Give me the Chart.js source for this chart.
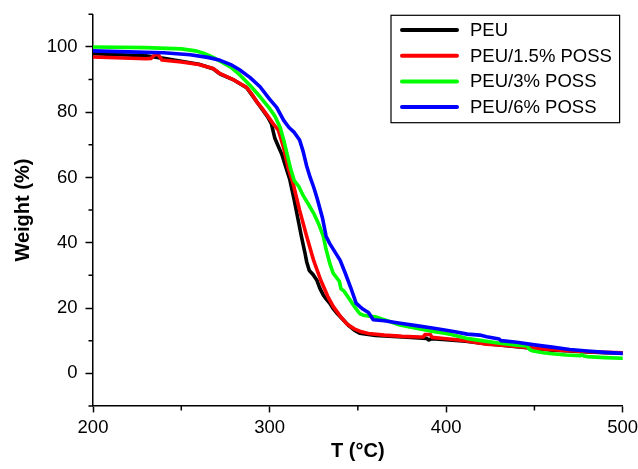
<!DOCTYPE html>
<html>
<head>
<meta charset="utf-8">
<script src="https://cdn.jsdelivr.net/npm/chart.js@4/dist/chart.umd.min.js"></script>
<style>
  html, body { margin: 0; padding: 0; background: #fff; }
  #wrap { width: 638px; height: 469px; }
</style>
</head>
<body>
<div id="wrap"><canvas id="c" width="638" height="469"></canvas></div>
<script>
// ---- Data ----
const seriesLabels = ['PEU', 'PEU/1.5% POSS', 'PEU/3% POSS', 'PEU/6% POSS'];

const tPEU = [200, 230, 240, 250, 260, 268, 272, 280, 287, 290, 293, 296, 299, 301, 303, 305, 307, 309, 311.5, 314, 316, 318, 320, 321, 322.5, 324.7, 326.7, 328.5, 330.4, 332, 334, 336, 338, 341.7, 345, 348, 351, 355, 360, 370, 380, 389, 390, 392, 400, 411, 420, 430, 440, 450, 460, 470, 480, 490, 500];
const wPEU = [97.9, 97.3, 96.5, 95.6, 94.7, 93.3, 91.7, 89.8, 87.5, 85.3, 83, 80.8, 78.5, 76.5, 72, 69.5, 67, 63.5, 59.3, 53, 47.5, 42, 37, 34.2, 31.5, 30.2, 28.6, 26, 24, 22.8, 21.5, 19.8, 18.5, 16.4, 14.5, 13.2, 12.3, 12.0, 11.6, 11.3, 11.0, 10.7, 10.2, 10.6, 10.3, 9.8, 9.2, 8.7, 8.1, 7.6, 7.1, 6.8, 6.5, 6.3, 6.2];

const tPOSS15 = [200, 230, 233, 235, 237, 239, 250, 260, 268, 272, 280, 287, 290, 293, 296, 299, 302, 305, 308, 310.5, 313.4, 317, 321, 325, 329, 333, 336, 340, 344, 348, 352, 356, 365, 375, 385, 387, 388, 391, 392, 400, 411, 423, 430, 440, 450, 460, 470, 480, 490, 500];
const wPOSS15 = [96.9, 96.4, 96.5, 97.6, 97.6, 96.0, 95.4, 94.6, 93.4, 91.8, 89.8, 87.6, 85.5, 83, 81, 78.8, 76.5, 74.5, 69, 63, 58, 50, 42, 34.5, 28.5, 23.5, 20.5, 17.5, 15, 13.6, 12.7, 12.2, 11.7, 11.3, 11.1, 11.1, 11.9, 11.9, 11.0, 10.6, 10.0, 8.9, 8.7, 8.2, 7.7, 7.2, 6.9, 6.6, 6.4, 6.3];

const tPOSS3 = [200, 230, 250, 258, 263, 268, 273, 278, 283, 289, 295, 300.2, 303, 306, 308, 310, 312, 314, 316.5, 319, 322, 325, 328, 330.4, 332, 334.2, 336, 339.5, 340.5, 342, 345.5, 348, 351, 353, 360.6, 373.8, 383, 392.7, 400, 402, 404, 411.5, 420, 430.5, 440, 445.6, 447.5, 449.3, 455, 460, 468, 476, 477, 478, 480, 490, 500];
const wPOSS3 = [100, 99.8, 99.4, 98.8, 98, 96.8, 95.3, 93.8, 91.5, 88.2, 84.5, 81, 78.8, 75.3, 71.5, 67, 62.5, 59, 57.3, 54.5, 51.8, 49, 45.5, 42, 38, 33.5, 30.7, 28.2, 25.8, 25.3, 22.5, 20.5, 18.3, 17.8, 17.2, 14.8, 13.8, 12.8, 12.2, 12.0, 11.7, 10.7, 10.0, 9.2, 8.6, 8.4, 7.2, 6.8, 6.3, 6.0, 5.6, 5.4, 5.7, 5.3, 5.1, 4.8, 4.6];

const tPOSS6 = [200, 220, 240, 255, 265, 272, 278, 283, 289, 294.6, 300, 304, 308, 311, 314, 317, 319, 321, 323, 325, 327, 330, 332, 334, 337, 340, 343, 346, 349, 351, 353, 356, 358.7, 365, 374, 383, 393, 400, 405, 412, 419, 423, 430, 431, 440, 450, 460, 470, 480, 490, 500];
const wPOSS6 = [98.8, 98.5, 98.2, 97.6, 96.8, 95.9, 94.6, 93, 90.6, 87.8, 84, 81.5, 77.5, 75.3, 73.8, 71.5, 68, 63.5, 60, 57, 53.5, 47.5, 42, 39.8, 37.2, 34.6, 30.5, 26.2, 21.5, 20.5, 19.6, 18.6, 16.4, 16.1, 15.3, 14.6, 13.8, 13.2, 12.7, 12.0, 11.7, 11.2, 10.5, 10.0, 9.5, 8.7, 8.0, 7.3, 6.8, 6.4, 6.1];

const xMajorTicks = [200, 300, 400, 500];
const xMinorTicks = [250, 350, 450];
const yMajorTicks = [0, 20, 40, 60, 80, 100];
const yMinorTicks = [-10, 10, 30, 50, 70, 90, 110];

// ---- Styling ----
const colors = ['#000000', '#ff0000', '#00ff00', '#0000ff'];
const FONT = "'Liberation Sans', Arial, Helvetica, sans-serif";

const seriesT = [tPEU, tPOSS15, tPOSS3, tPOSS6];
const seriesW = [wPEU, wPOSS15, wPOSS3, wPOSS6];

const datasets = seriesLabels.map((label, k) => ({
  label,
  data: seriesT[k].map((t, i) => ({ x: t, y: seriesW[k][i] })),
  borderColor: colors[k],
  backgroundColor: colors[k],
  borderWidth: 3.6,
  pointRadius: 0,
  tension: 0,
  fill: false,
  borderJoinStyle: 'round',
  borderCapStyle: 'round',
  order: seriesLabels.length - k
}));

const minorTicksPlugin = {
  id: 'minorTicks',
  afterDraw(chart) {
    const ctx = chart.ctx;
    const xs = chart.scales.x, ys = chart.scales.y;
    const a = chart.chartArea;
    ctx.save();
    ctx.strokeStyle = '#000';
    ctx.lineWidth = 1.5;
    ctx.beginPath();
    yMinorTicks.forEach(v => {
      const p = ys.getPixelForValue(v);
      ctx.moveTo(a.left - 4.5, p);
      ctx.lineTo(a.left, p);
    });
    xMinorTicks.forEach(v => {
      const p = xs.getPixelForValue(v);
      ctx.moveTo(p, a.bottom);
      ctx.lineTo(p, a.bottom + 4.5);
    });
    ctx.stroke();
    ctx.restore();
  }
};

const boxLegendPlugin = {
  id: 'boxLegend',
  afterDraw(chart) {
    const ctx = chart.ctx;
    const a = chart.chartArea;
    const bw = 228.6, bh = 107.4;
    const bx = a.right - 231.7, by = a.top + 1;
    ctx.save();
    ctx.fillStyle = '#fff';
    ctx.fillRect(bx, by, bw, bh);
    ctx.strokeStyle = '#000';
    ctx.lineWidth = 1.2;
    ctx.strokeRect(bx, by, bw, bh);
    ctx.font = '18.5px ' + FONT;
    ctx.textBaseline = 'middle';
    ctx.textAlign = 'left';
    chart.data.datasets.forEach((ds, i) => {
      const y = by + 14.7 + i * 25.7;
      ctx.strokeStyle = ds.borderColor;
      ctx.lineWidth = 4;
      ctx.lineCap = 'round';
      ctx.beginPath();
      ctx.moveTo(bx + 11, y);
      ctx.lineTo(bx + 66, y);
      ctx.stroke();
      ctx.fillStyle = '#000';
      ctx.fillText(ds.label, bx + 79, y + 1);
    });
    ctx.restore();
  }
};

Chart.defaults.color = '#000';
Chart.defaults.font.family = FONT;

new Chart(document.getElementById('c'), {
  type: 'line',
  data: { datasets },
  plugins: [minorTicksPlugin, boxLegendPlugin],
  options: {
    responsive: false,
    animation: false,
    devicePixelRatio: 1,
    layout: { padding: { top: 14.3, right: 15.3, left: 0, bottom: 0 } },
    plugins: { legend: { display: false }, tooltip: { enabled: false } },
    scales: {
      x: {
        type: 'linear',
        min: 200, max: 500,
        afterBuildTicks(s) { s.ticks = xMajorTicks.map(v => ({ value: v })); },
        afterFit(s) { s.height = 63.1; s.paddingLeft = 0; s.paddingRight = 0; },
        grid: { display: true, drawOnChartArea: false, drawTicks: true, tickLength: 6.5, tickWidth: 1.5, tickColor: '#000' },
        border: { display: true, color: '#000', width: 1.5 },
        ticks: { font: { size: 18.5 }, padding: 4, color: '#000', maxRotation: 0, autoSkip: false },
        title: { display: true, text: 'T (°C)', font: { size: 20, weight: 'bold' }, color: '#000', padding: { top: 0, bottom: 5.4 } }
      },
      y: {
        type: 'linear',
        min: -10, max: 110,
        afterBuildTicks(s) { s.ticks = yMajorTicks.map(v => ({ value: v })); },
        afterFit(s) { s.width = 93; s.paddingTop = 0; s.paddingBottom = 0; },
        grid: { display: true, drawOnChartArea: false, drawTicks: true, tickLength: 7.5, tickWidth: 1.5, tickColor: '#000' },
        border: { display: true, color: '#000', width: 1.5 },
        ticks: { font: { size: 18.5 }, padding: 8, color: '#000', autoSkip: false },
        title: { display: true, text: 'Weight (%)', font: { size: 20, weight: 'bold' }, color: '#000', padding: { top: 11, bottom: 0 } }
      }
    }
  }
});
</script>
</body>
</html>
